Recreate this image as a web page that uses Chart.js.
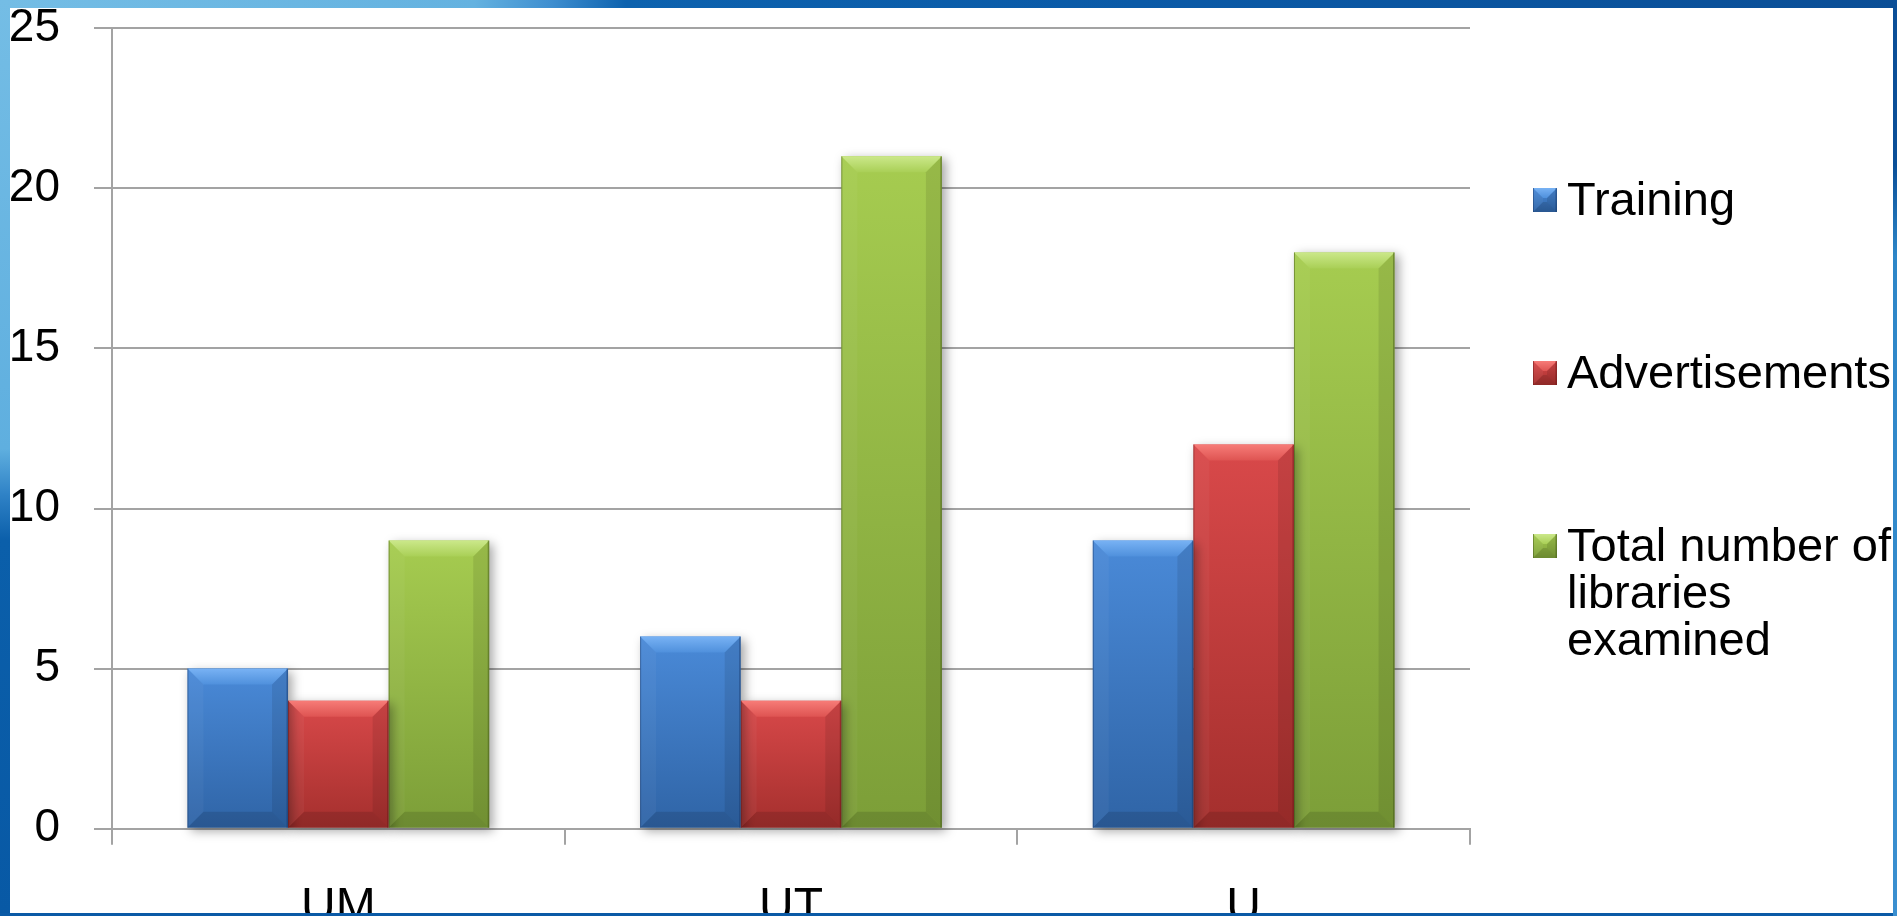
<!DOCTYPE html>
<html>
<head>
<meta charset="utf-8">
<title>Libraries examined: training and advertisements</title>
<script src="https://cdn.jsdelivr.net/npm/chart.js@4.4.1/dist/chart.umd.min.js"></script>
<style>
  html, body { margin: 0; padding: 0; width: 1897px; height: 916px; overflow: hidden; background: #fff;
    font-family: "Liberation Sans", Arial, sans-serif; }
  #wrap { position: absolute; left: 0; top: 0; width: 1897px; height: 916px; }
  .frame { position: absolute; pointer-events: none; z-index: 5; }
  #frameTop { left: 0; top: 0; width: 1897px; height: 8px;
    background: linear-gradient(90deg, #74bde5 0%, #64b2e0 25%, #3f8fd0 29%, #0d62ae 33%, #0a5aa7 60%, #0a4e96 100%); }
  #frameLeft { left: 0; top: 0; width: 10px; height: 916px;
    background: linear-gradient(180deg, #74bde5 0%, #5fafdf 49%, #2f82c6 54%, #0b5faa 59%, #0859a5 100%); }
  #frameBottom { left: 0; top: 913px; width: 1897px; height: 3px; background: #0a5aa6; }
  #frameRight { left: 1893px; top: 0; width: 4px; height: 916px;
    background: linear-gradient(180deg, #0a4f98 0%, #0a4f98 18%, #2d86c8 28%, #3a8fd0 100%); }
  #legend { position: absolute; left: 1533px; top: 175px; z-index: 3; }
  .item { display: flex; align-items: flex-start; margin-bottom: 126px; }
  .item canvas { margin-top: 13px; width: 24px; height: 24px; flex: none; }
  .item span { margin-left: 10px; font-size: 47px; line-height: 47px; color: #000; width: 345px; }
</style>
</head>
<body>
<div id="wrap"><canvas id="chart"></canvas></div>
<div id="legend"></div>
<div class="frame" id="frameTop"></div>
<div class="frame" id="frameLeft"></div>
<div class="frame" id="frameBottom"></div>
<div class="frame" id="frameRight"></div>
<script>
// Chart data
const categories = ['UM', 'UT', 'U'];
const seriesNames = ['Training', 'Advertisements', 'Total number of libraries examined'];
const training = [5, 6, 9];
const advertisements = [4, 4, 12];
const totalLibraries = [9, 21, 18];
const yTicks = [0, 5, 10, 15, 20, 25];

// Bevelled bar palettes: gradient body, lit top facet, shaded edges
const palettes = [
  { top: '#4a8ad8', bottom: '#2f64a6', light: '#78b2f4', lightEnd: '#4f90dc', edge: 'rgba(20,50,100,0.45)' },
  { top: '#d9494a', bottom: '#a42f2d', light: '#f77c78', lightEnd: '#de5452', edge: 'rgba(100,20,20,0.45)' },
  { top: '#a6cc50', bottom: '#7c9e38', light: '#cbe88a', lightEnd: '#a9cf56', edge: 'rgba(60,80,20,0.45)' }
];
const GRID = '#a3a3a3';
const FONT = '"Liberation Sans", Arial, sans-serif';

function barFill(ctx, pal) {
  const chart = ctx.chart;
  const ys = chart.scales.y;
  if (!ys || ctx.raw == null || !isFinite(ys.getPixelForValue(0))) return pal.top;
  const top = ys.getPixelForValue(ctx.raw);
  const base = ys.getPixelForValue(0);
  const g = chart.ctx.createLinearGradient(0, top, 0, base);
  g.addColorStop(0, pal.top);
  g.addColorStop(1, pal.bottom);
  return g;
}

function poly(c, pts, fill) {
  c.beginPath();
  c.moveTo(pts[0][0], pts[0][1]);
  for (let k = 1; k < pts.length; k++) c.lineTo(pts[k][0], pts[k][1]);
  c.closePath();
  c.fillStyle = fill;
  c.fill();
}

// Facets drawn over a bar rectangle (x, y = top-left corner)
function drawBevel(c, x, y, w, h, pal, size) {
  if (h <= 0 || w <= 0) return;
  const b = Math.min(size, w / 2, h / 2);
  const r = x + w, btm = y + h;
  const tg = c.createLinearGradient(0, y, 0, y + b);
  tg.addColorStop(0, pal.light);
  tg.addColorStop(1, pal.lightEnd);
  poly(c, [[x, y], [r, y], [r - b, y + b], [x + b, y + b]], tg);
  poly(c, [[x, y], [x + b, y + b], [x + b, btm - b], [x, btm]], 'rgba(255,255,255,0.04)');
  poly(c, [[r, y], [r, btm], [r - b, btm - b], [r - b, y + b]], 'rgba(0,0,0,0.09)');
  poly(c, [[x, btm], [x + b, btm - b], [r - b, btm - b], [r, btm]], 'rgba(0,0,0,0.12)');
  c.fillStyle = pal.edge;
  c.fillRect(x, y, 1, h);
  c.fillRect(r - 1.5, y, 1.5, h);
}

const bevelPlugin = {
  id: 'bevel',
  beforeDatasetsDraw(chart) {
    const c = chart.ctx;
    c.save();
    c.shadowColor = 'rgba(0,0,0,0.35)';
    c.shadowBlur = 10;
    c.shadowOffsetX = 4;
    c.shadowOffsetY = 3;
  },
  afterDatasetsDraw(chart) {
    const c = chart.ctx;
    c.restore();
    chart.data.datasets.forEach((ds, i) => {
      const meta = chart.getDatasetMeta(i);
      meta.data.forEach(el => {
        const p = el.getProps(['x', 'y', 'base', 'width'], true);
        drawBevel(c, p.x - p.width / 2, p.y, p.width, p.base - p.y, palettes[i], 16);
      });
    });
  }
};

const seriesValues = [training, advertisements, totalLibraries];

const chart = new Chart(document.getElementById('chart'), {
  type: 'bar',
  data: {
    labels: categories,
    datasets: seriesValues.map((vals, i) => ({
      label: seriesNames[i],
      data: vals,
      backgroundColor: ctx => barFill(ctx, palettes[i]),
      borderWidth: 0,
      categoryPercentage: 0.6667,
      barPercentage: 1,
      clip: false
    }))
  },
  options: {
    responsive: true,
    maintainAspectRatio: false,
    animation: false,
    devicePixelRatio: 1,
    layout: { padding: { left: 0, top: 28.3, right: 427, bottom: 0 } },
    plugins: { legend: { display: false }, tooltip: { enabled: false } },
    scales: {
      x: {
        grid: { display: true, drawOnChartArea: false, drawTicks: true, tickLength: 16,
                color: GRID, lineWidth: 2, offset: true },
        border: { display: true, color: GRID, width: 2 },
        ticks: { color: '#000', font: { family: FONT, size: 48 }, padding: 34 },
        afterFit(scale) { scale.height = 916 - 828.7; scale.paddingLeft = 0; scale.paddingRight = 0; }
      },
      y: {
        min: 0,
        max: 25,
        grid: { color: GRID, lineWidth: 2, tickLength: 18, drawTicks: true },
        border: { display: true, color: GRID, width: 2 },
        ticks: { color: '#000', font: { family: FONT, size: 46 }, padding: 34 },
        afterBuildTicks(scale) { scale.ticks = yTicks.map(v => ({ value: v })); },
        afterFit(scale) { scale.width = 112; scale.paddingTop = 0; scale.paddingBottom = 0; }
      }
    }
  },
  plugins: [bevelPlugin]
});

// Legend built from the chart's own datasets
const legend = document.getElementById('legend');
chart.data.datasets.forEach((ds, i) => {
  const item = document.createElement('div');
  item.className = 'item';
  const sw = document.createElement('canvas');
  sw.width = 24; sw.height = 24;
  const sc = sw.getContext('2d');
  const g = sc.createLinearGradient(0, 0, 0, 24);
  g.addColorStop(0, palettes[i].top);
  g.addColorStop(1, palettes[i].bottom);
  sc.fillStyle = g;
  sc.fillRect(0, 0, 24, 24);
  drawBevel(sc, 0, 0, 24, 24, palettes[i], 10);
  const txt = document.createElement('span');
  txt.textContent = ds.label;
  item.appendChild(sw);
  item.appendChild(txt);
  legend.appendChild(item);
});
</script>
</body>
</html>
